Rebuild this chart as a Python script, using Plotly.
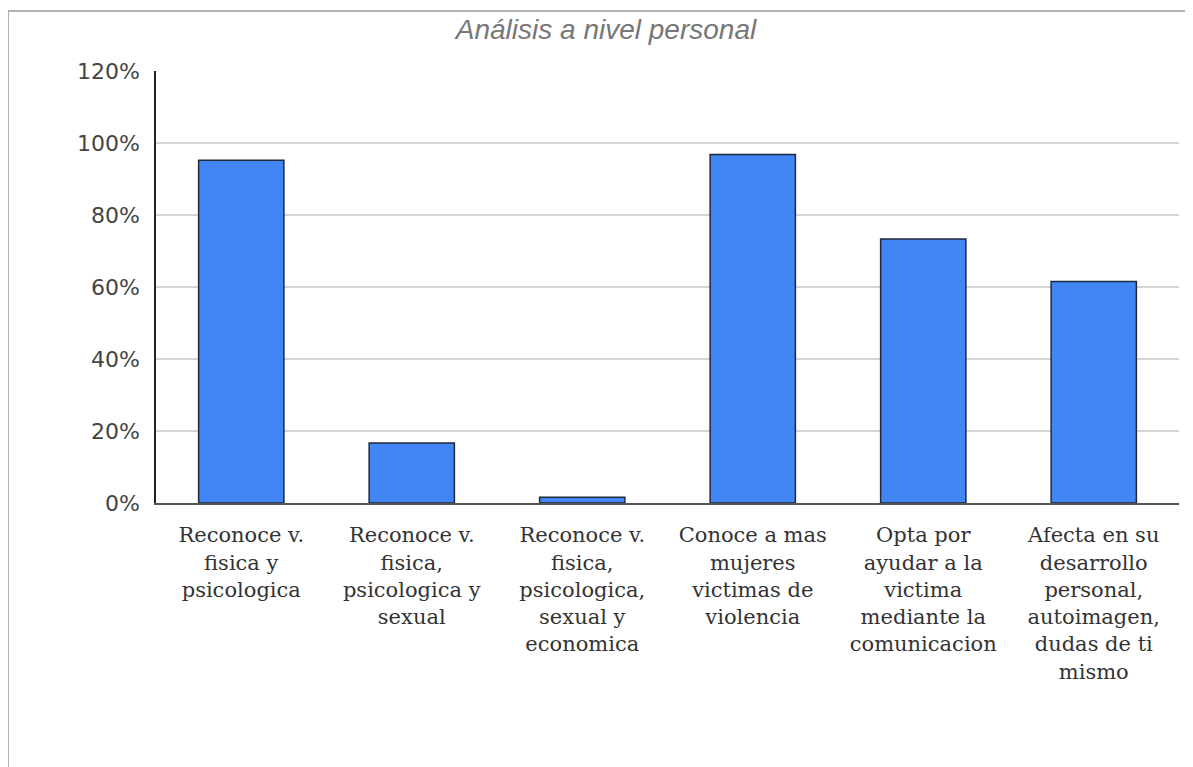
import plotly.graph_objects as go

categories = [
    "Reconoce v.<br>fisica y<br>psicologica",
    "Reconoce v.<br>fisica,<br>psicologica y<br>sexual",
    "Reconoce v.<br>fisica,<br>psicologica,<br>sexual y<br>economica",
    "Conoce a mas<br>mujeres<br>victimas de<br>violencia",
    "Opta por<br>ayudar a la<br>victima<br>mediante la<br>comunicacion",
    "Afecta en su<br>desarrollo<br>personal,<br>autoimagen,<br>dudas de ti<br>mismo",
]
values = [0.952, 0.167, 0.016, 0.968, 0.733, 0.615]
y_ticks = [0, 0.2, 0.4, 0.6, 0.8, 1.0, 1.2]

# page body offset of 8px is compensated in the margins
OFF = 8
W, H = 1193, 767
L, R, T, B = 156 - OFF, 14 + OFF, 71 - OFF, 264 + OFF
pw, ph = W - L - R, H - T - B

fig = go.Figure(
    go.Bar(
        x=categories,
        y=values,
        width=0.5,
        marker=dict(color="#4285F4", line=dict(color="#1f2a38", width=1.5)),
    )
)

def px_to_paper_x(px):
    return (px - OFF - L) / pw

def px_to_paper_y(py):
    return (H - B - (py - OFF)) / ph

fig.update_layout(
    width=W,
    height=H,
    margin=dict(l=L, r=R, t=T, b=B),
    paper_bgcolor="white",
    plot_bgcolor="white",
    showlegend=False,
    title=dict(
        text="Análisis a nivel personal",
        x=(606 - OFF) / W,
        xref="container",
        xanchor="center",
        y=1 - (29 - OFF) / H,
        yref="container",
        yanchor="middle",
        font=dict(family="Liberation Sans", size=28, color="#777777", style="italic"),
    ),
    xaxis=dict(
        showgrid=False,
        showline=True,
        linecolor="#555555",
        linewidth=2,
        ticks="",
        tickfont=dict(family="DejaVu Serif", size=21, color="#333333"),
        ticklabelstandoff=12,
    ),
    yaxis=dict(
        range=[0, 1.2],
        tickvals=y_ticks,
        tickformat=".0%",
        showgrid=True,
        gridcolor="#d4d4d4",
        gridwidth=2,
        showline=True,
        linecolor="#222222",
        linewidth=1.5,
        zeroline=False,
        ticks="",
        tickfont=dict(family="DejaVu Sans", size=22, color="#444444"),
        ticklabelstandoff=10,
    ),
    shapes=[
        dict(type="line", xref="paper", yref="paper",
             x0=px_to_paper_x(8), x1=px_to_paper_x(8),
             y0=px_to_paper_y(11), y1=px_to_paper_y(H + 20),
             line=dict(color="#9a9a9a", width=1.5)),
        dict(type="line", xref="paper", yref="paper",
             x0=px_to_paper_x(8), x1=px_to_paper_x(W + 20),
             y0=px_to_paper_y(11), y1=px_to_paper_y(11),
             line=dict(color="#9a9a9a", width=1.5)),
    ],
)

fig.write_html("out.html")
